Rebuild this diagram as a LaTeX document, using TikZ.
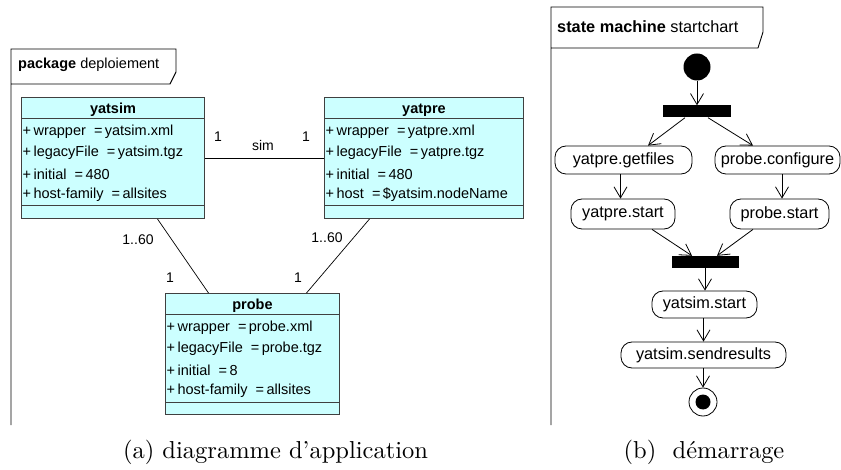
\documentclass[tikz,border=0pt]{standalone}
\usepackage{graphicx}
\usepackage{fontspec}
\setsansfont{Liberation Sans}
\usetikzlibrary{arrows.meta}

\definecolor{classfill}{HTML}{CCFFFF}
\definecolor{classedge}{HTML}{404040}

\tikzset{
  frameline/.style={draw=black, line width=0.9pt},
  classbox/.style={rectangle, draw=classedge, fill=classfill, line width=1pt,
    inner sep=0pt, anchor=north west},
  classtitle/.style={font=\sffamily\bfseries\fontsize{14.5}{17}\selectfont, inner sep=0pt},
  attr/.style={font=\sffamily\fontsize{14.5}{17}\selectfont, inner sep=0pt, anchor=west},
  classline/.style={draw=classedge, line width=1pt},
  assoc/.style={draw=black, line width=0.7pt},
  mult/.style={font=\sffamily\fontsize{14}{16}\selectfont, inner sep=0pt},
  framelabel/.style={anchor=west, inner sep=0pt},
  statebox/.style={rectangle, rounded corners=11pt, draw=black, line width=0.8pt,
    inner sep=0pt, font=\sffamily\fontsize{16.3}{19}\selectfont},
  syncbar/.style={rectangle, fill=black, inner sep=0pt, minimum height=12pt},
  initstate/.style={circle, fill=black, inner sep=0pt, minimum size=27pt},
  finalstate/.style={circle, draw=black, line width=0.8pt, inner sep=0pt, minimum size=28pt},
  flow/.style={draw=black, line width=0.8pt, -{Straight Barb[length=11pt,width=13pt,line width=0.8pt]}},
  caption/.style={inner sep=0pt, anchor=base},
}

% UML class: name, left, top, width, title, four attributes
\newcommand\umlclass[9]{%
  \node[classbox, minimum width=#4pt, minimum height=121pt] (#1) at (#2,#3) {};
  \node[classtitle] (#1-t) at ([yshift=-13pt]#1.north) {#5};
  \draw[classline] ([xshift=1pt,yshift=-22pt]#1.north west) -- ([xshift=-1pt,yshift=-22pt]#1.north east);
  \node[attr] (#1-a1) at ([xshift=1.5pt,yshift=-35pt]#1.north west) {#6};
  \node[attr] (#1-a2) at ([xshift=1.5pt,yshift=-56pt]#1.north west) {#7};
  \node[attr] (#1-a3) at ([xshift=1.5pt,yshift=-77pt]#1.north west) {#8};
  \node[attr] (#1-a4) at ([xshift=1.5pt,yshift=-98pt]#1.north west) {#9};
  \draw[classline] ([xshift=1pt,yshift=13pt]#1.south west) -- ([xshift=-1pt,yshift=13pt]#1.south east);
}

% caption text set at 10pt and enlarged
\newcommand\bigcaption[1]{\scalebox{2.45}{\fontsize{10}{12}\selectfont #1}}

\begin{document}
\begin{tikzpicture}[x=1pt, y=-1pt]
\useasboundingbox (0,0) rectangle (841,470);

% ---------- package frame ----------
\draw[frameline] (11,425) -- (11,49) -- (176,49) -- (176,72) -- (170,84) -- (11,84);
\node[framelabel, font=\sffamily\fontsize{14.5}{17}\selectfont] (pkg) at (18,65)
  {\textbf{package} deploiement};

\umlclass{yatsim}{21}{97}{183}{yatsim}
  {+\,wrapper\ \ =\,yatsim.xml}{+\,legacyFile\ \ =\,yatsim.tgz}{+\,initial\ \ =\,480}{+\,host-family\ \ =\,allsites}
\umlclass{yatpre}{324}{97}{199}{yatpre}
  {+\,wrapper\ \ =\,yatpre.xml}{+\,legacyFile\ \ =\,yatpre.tgz}{+\,initial\ \ =\,480}{+\,host\ \ =\,\$yatsim.nodeName}
\umlclass{probe}{165}{293}{174}{probe}
  {+\,wrapper\ \ =\,probe.xml}{+\,legacyFile\ \ =\,probe.tgz}{+\,initial\ \ =\,8}{+\,host-family\ \ =\,allsites}

% associations
\draw[assoc] (yatsim) -- (yatpre);
\draw[assoc] ([xshift=44.5pt]yatsim.south) -- ([xshift=-44pt]probe.north);
\draw[assoc] ([xshift=-54.5pt]yatpre.south) -- ([xshift=54pt]probe.north);

\node[mult] (m1) at (218,137) {1};
\node[mult] (msim) at (263,145) {sim};
\node[mult] (m2) at (306,137) {1};
\node[mult] (m3) at (138,240) {1..60};
\node[mult] (m4) at (170,278) {1};
\node[mult] (m5) at (327,238) {1..60};
\node[mult] (m6) at (298,278) {1};

% ---------- state machine frame ----------
\draw[frameline] (551,425) -- (551,7) -- (763,7) -- (763,32) -- (758,48) -- (551,48);
\node[framelabel, font=\sffamily\fontsize{16.3}{19}\selectfont] (sm) at (557,27)
  {\textbf{state machine}\ startchart};

\node[initstate] (init) at (697,67) {};
\node[syncbar, minimum width=68pt] (fork) at (697,111.5) {};
\node[statebox, minimum width=137pt, minimum height=28pt] (getfiles) at (623.5,160) {yatpre.getfiles};
\node[statebox, minimum width=125pt, minimum height=28pt] (configure) at (777.5,160) {probe.configure};
\node[statebox, minimum width=104pt, minimum height=30pt] (ystart) at (623,214) {yatpre.start};
\node[statebox, minimum width=99pt, minimum height=30pt] (pstart) at (779.5,214) {probe.start};
\node[syncbar, minimum width=67pt] (join) at (705,262) {};
\node[statebox, minimum width=105pt, minimum height=27pt] (simstart) at (704.5,304.5) {yatsim.start};
\node[statebox, minimum width=165pt, minimum height=26pt] (sendres) at (703.5,355) {yatsim.sendresults};
\node[finalstate] (final) at (703,402) {};
\fill (final.center) circle (7.5pt);

\draw[flow] (init.south) -- (init.south |- fork.north);
\draw[flow] ([xshift=-12pt]fork.south) -- ([xshift=24.5pt]getfiles.north);
\draw[flow] ([xshift=11pt]fork.south) -- ([xshift=-24.5pt]configure.north);
\draw[flow] ([xshift=-3pt]getfiles.south) -- ([xshift=-3pt]getfiles.south |- ystart.north);
\draw[flow] ([xshift=4.5pt]configure.south) -- ([xshift=4.5pt]configure.south |- pstart.north);
\draw[flow] ([xshift=29pt]ystart.south) -- ([xshift=-13pt]join.north);
\draw[flow] ([xshift=-26.5pt]pstart.south) -- ([xshift=12pt]join.north);
\draw[flow] (join.south) -- (join.south |- simstart.north);
\draw[flow] ([xshift=-1pt]simstart.south) -- ([xshift=-1pt]simstart.south |- sendres.north);
\draw[flow] ([xshift=-0.5pt]sendres.south) -- ([xshift=-0.5pt]sendres.south |- final.north);

% ---------- captions ----------
\node[caption] (capa) at (275.5,458) {\bigcaption{(a)\ diagramme d'application}};
\node[caption] (capb) at (704,458) {\bigcaption{(b)\ \ démarrage}};
\end{tikzpicture}
\end{document}
